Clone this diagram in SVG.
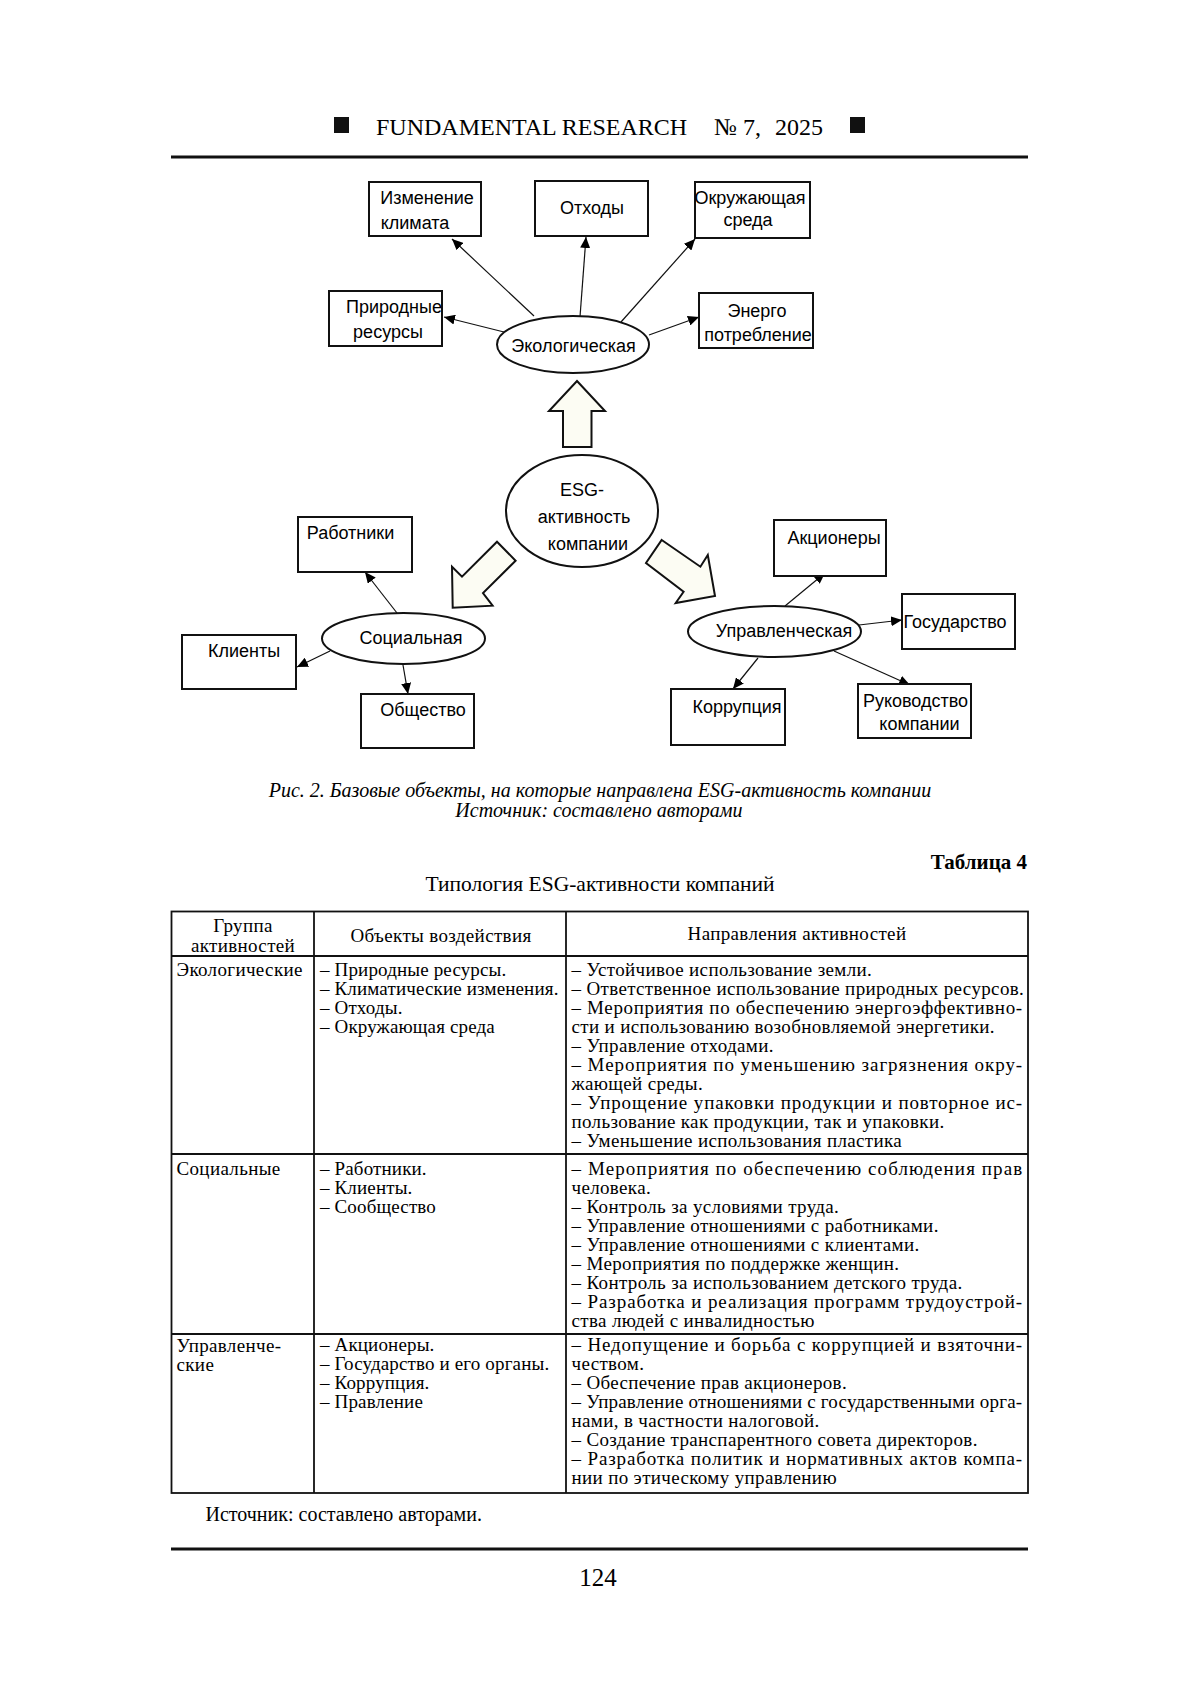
<svg xmlns="http://www.w3.org/2000/svg" width="1200" height="1697" viewBox="0 0 1200 1697">
<defs>
<marker id="ah" markerUnits="userSpaceOnUse" markerWidth="12" markerHeight="10" refX="11" refY="5" orient="auto">
<path d="M0,0 L11,5 L0,10 Z" fill="#000"/>
</marker>
<style>
.box{fill:#fff;stroke:#111;stroke-width:2}
.ell{fill:#fff;stroke:#111;stroke-width:2}
.lbl{font-family:"Liberation Sans",Arial,sans-serif;font-size:18px;fill:#000;text-anchor:middle}
.con{stroke:#111;stroke-width:1.2;fill:none;marker-end:url(#ah)}
.big{fill:#fcfcf3;stroke:#111;stroke-width:2;stroke-linejoin:miter}
.serif{font-family:"Liberation Serif","Times New Roman",serif;fill:#000}
.cell{font-family:"Liberation Serif","Times New Roman",serif;font-size:19px;letter-spacing:0.35px;fill:#000}
.c2{letter-spacing:0.15px}
.grid{stroke:#111;stroke-width:1.8;fill:none}
.rule{stroke:#111;stroke-width:3}
</style>
</defs>
<rect width="1200" height="1697" fill="#fff"/>

<g id="header">
<rect x="334" y="117" width="15" height="16" fill="#111"/>
<rect x="850" y="117" width="15" height="16" fill="#111"/>
<text class="serif" x="376" y="135" font-size="24">FUNDAMENTAL RESEARCH</text>
<text class="serif" x="714" y="135" font-size="24">№ 7,</text>
<text class="serif" x="775" y="135" font-size="24">2025</text>
<line class="rule" x1="171" y1="157" x2="1028" y2="157"/>
</g>

<g id="connectors">
<line class="con" x1="534" y1="316" x2="452" y2="239"/>
<line class="con" x1="580" y1="317" x2="586" y2="237"/>
<line class="con" x1="621" y1="322" x2="695" y2="239"/>
<line class="con" x1="504" y1="332" x2="444" y2="317"/>
<line class="con" x1="649" y1="335" x2="699" y2="317"/>
<line class="con" x1="397" y1="613" x2="365" y2="572"/>
<line class="con" x1="330" y1="651" x2="297" y2="667"/>
<line class="con" x1="403" y1="665" x2="408" y2="694"/>
<line class="con" x1="785" y1="606" x2="825" y2="573"/>
<line class="con" x1="859" y1="625" x2="902" y2="620"/>
<line class="con" x1="758" y1="658" x2="733" y2="689"/>
<line class="con" x1="834" y1="651" x2="910" y2="685"/>
<polygon class="big" points="577,381 605,411 591.5,411 591.5,447 563,447 563,411 549,411"/>
<polygon class="big" points="497,541.7 515.6,560.7 483,593 492.6,605.7 452.7,607.7 452,566.7 462,576.7"/>
<polygon class="big" points="661.7,540 700.4,566.7 707.8,555 715,596 675.7,603 683.6,591.7 646,563"/>
</g>

<g id="node-climate"><rect class="box" x="369" y="182" width="112" height="54"/><text class="lbl" x="427" y="204">Изменение</text><text class="lbl" x="415" y="229">климата</text></g>
<g id="node-waste"><rect class="box" x="535" y="181" width="113" height="55"/><text class="lbl" x="592" y="214">Отходы</text></g>
<g id="node-env"><rect class="box" x="695" y="182" width="115" height="56"/><text class="lbl" x="750" y="204">Окружающая</text><text class="lbl" x="748" y="226">среда</text></g>
<g id="node-nature"><rect class="box" x="329" y="291" width="113" height="55"/><text class="lbl" x="394" y="313">Природные</text><text class="lbl" x="388" y="338">ресурсы</text></g>
<g id="node-energy"><rect class="box" x="699" y="293" width="114" height="55"/><text class="lbl" x="757" y="317">Энерго</text><text class="lbl" x="758" y="341">потребление</text></g>
<g id="node-eco"><ellipse class="ell" cx="573" cy="344.5" rx="76" ry="28.5"/><text class="lbl" x="573.5" y="352">Экологическая</text></g>
<g id="node-esg"><ellipse class="ell" cx="582" cy="511" rx="76" ry="56"/><text class="lbl" x="582" y="496">ESG-</text><text class="lbl" x="584" y="523">активность</text><text class="lbl" x="588" y="550">компании</text></g>
<g id="node-workers"><rect class="box" x="298" y="517" width="114" height="55"/><text class="lbl" x="350.5" y="539">Работники</text></g>
<g id="node-clients"><rect class="box" x="182" y="635" width="114" height="54"/><text class="lbl" x="244" y="657">Клиенты</text></g>
<g id="node-society"><rect class="box" x="361" y="694" width="113" height="54"/><text class="lbl" x="423" y="716">Общество</text></g>
<g id="node-social"><ellipse class="ell" cx="403.5" cy="638.5" rx="81.5" ry="25.5"/><text class="lbl" x="411" y="644">Социальная</text></g>
<g id="node-share"><rect class="box" x="774" y="520" width="112" height="56"/><text class="lbl" x="834" y="544">Акционеры</text></g>
<g id="node-state"><rect class="box" x="902" y="594" width="113" height="55"/><text class="lbl" x="955" y="628">Государство</text></g>
<g id="node-gov"><ellipse class="ell" cx="774.5" cy="631.5" rx="86.5" ry="25.5"/><text class="lbl" x="784" y="637">Управленческая</text></g>
<g id="node-corrupt"><rect class="box" x="671" y="689" width="114" height="56"/><text class="lbl" x="737" y="713">Коррупция</text></g>
<g id="node-mgmt"><rect class="box" x="858" y="684" width="113" height="54"/><text class="lbl" x="915.5" y="707">Руководство</text><text class="lbl" x="919.5" y="730">компании</text></g>

<g id="caption" class="serif" font-style="italic" font-size="20" text-anchor="middle">
<text x="600" y="797">Рис. 2. Базовые объекты, на которые направлена ESG-активность компании</text>
<text x="599" y="817">Источник: составлено авторами</text>
</g>

<g id="table-title" class="serif">
<text x="1027" y="869" font-size="21" font-weight="bold" text-anchor="end">Таблица 4</text>
<text x="600" y="891" font-size="21.5" text-anchor="middle">Типология ESG-активности компаний</text>
</g>

<g id="table">
<rect class="grid" x="171.5" y="911.5" width="856.5" height="581.5"/>
<line class="grid" x1="314" y1="911.5" x2="314" y2="1493"/>
<line class="grid" x1="566" y1="911.5" x2="566" y2="1493"/>
<line class="grid" x1="171.5" y1="956" x2="1028" y2="956"/>
<line class="grid" x1="171.5" y1="1154" x2="1028" y2="1154"/>
<line class="grid" x1="171.5" y1="1334" x2="1028" y2="1334"/>

<g class="cell" text-anchor="middle">
<text x="243" y="932">Группа</text>
<text x="243" y="952">активностей</text>
<text x="441" y="942">Объекты воздействия</text>
<text x="797" y="940">Направления активностей</text>
</g>

<g class="cell">
<text x="176.5" y="976">Экологические</text>
<text class="c2" x="320" y="976">– Природные ресурсы.</text>
<text class="c2" x="320" y="995">– Климатические изменения.</text>
<text class="c2" x="320" y="1014">– Отходы.</text>
<text class="c2" x="320" y="1033">– Окружающая среда</text>
<text x="571.5" y="976">– Устойчивое использование земли.</text>
<text x="571.5" y="995">– Ответственное использование природных ресурсов.</text>
<text x="571.5" y="1014" textLength="451">– Мероприятия по обеспечению энергоэффективно-</text>
<text x="571.5" y="1033">сти и использованию возобновляемой энергетики.</text>
<text x="571.5" y="1052">– Управление отходами.</text>
<text x="571.5" y="1071" textLength="451">– Мероприятия по уменьшению загрязнения окру-</text>
<text x="571.5" y="1090">жающей среды.</text>
<text x="571.5" y="1109" textLength="451">– Упрощение упаковки продукции и повторное ис-</text>
<text x="571.5" y="1128">пользование как продукции, так и упаковки.</text>
<text x="571.5" y="1147">– Уменьшение использования пластика</text>

<text x="176.5" y="1175">Социальные</text>
<text class="c2" x="320" y="1175">– Работники.</text>
<text class="c2" x="320" y="1194">– Клиенты.</text>
<text class="c2" x="320" y="1213">– Сообщество</text>
<text x="571.5" y="1175" textLength="451">– Мероприятия по обеспечению соблюдения прав</text>
<text x="571.5" y="1194">человека.</text>
<text x="571.5" y="1213">– Контроль за условиями труда.</text>
<text x="571.5" y="1232">– Управление отношениями с работниками.</text>
<text x="571.5" y="1251">– Управление отношениями с клиентами.</text>
<text x="571.5" y="1270">– Мероприятия по поддержке женщин.</text>
<text x="571.5" y="1289">– Контроль за использованием детского труда.</text>
<text x="571.5" y="1308" textLength="451">– Разработка и реализация программ трудоустрой-</text>
<text x="571.5" y="1327">ства людей с инвалидностью</text>

<text x="176.5" y="1352">Управленче-</text>
<text x="176.5" y="1371">ские</text>
<text class="c2" x="320" y="1351">– Акционеры.</text>
<text class="c2" x="320" y="1370">– Государство и его органы.</text>
<text class="c2" x="320" y="1389">– Коррупция.</text>
<text class="c2" x="320" y="1408">– Правление</text>
<text x="571.5" y="1351" textLength="451">– Недопущение и борьба с коррупцией и взяточни-</text>
<text x="571.5" y="1370">чеством.</text>
<text x="571.5" y="1389">– Обеспечение прав акционеров.</text>
<text x="571.5" y="1408" textLength="451">– Управление отношениями с государственными орга-</text>
<text x="571.5" y="1427">нами, в частности налоговой.</text>
<text x="571.5" y="1446">– Создание транспарентного совета директоров.</text>
<text x="571.5" y="1465" textLength="451">– Разработка политик и нормативных актов компа-</text>
<text x="571.5" y="1484">нии по этическому управлению</text>
</g>
</g>

<g id="footer" class="serif">
<text x="205.5" y="1521" font-size="20">Источник: составлено авторами.</text>
<line class="rule" x1="171" y1="1549" x2="1028" y2="1549"/>
<text x="598" y="1586" font-size="25" text-anchor="middle">124</text>
</g>
</svg>
